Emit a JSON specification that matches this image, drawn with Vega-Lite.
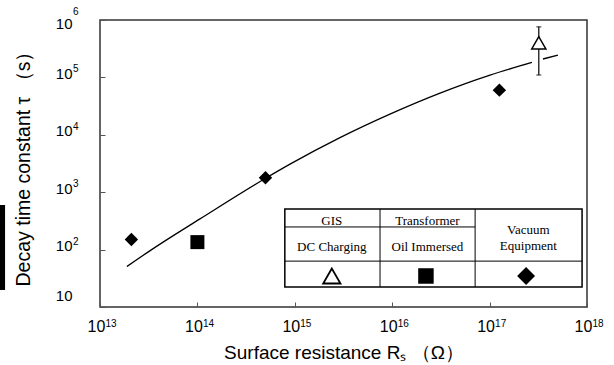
{
  "$schema": "https://vega.github.io/schema/vega-lite/v6.json",
  "width": 487,
  "height": 287,
  "autosize": {"type": "none"},
  "padding": {"left": 100, "top": 20, "right": 27, "bottom": 58},
  "background": "white",
  "config": {
    "view": {"stroke": "#333", "strokeWidth": 1.5},
    "axis": {"grid": false, "domain": false, "tickColor": "#555", "tickSize": -5, "labelColor": "black", "titleColor": "black", "labelFont": "Liberation Sans", "titleFont": "Liberation Sans", "labelFontSize": 15, "titleFontSize": 18, "titleFontWeight": "normal"}
  },
  "datasets": {
    "curve": [
      {"x": 1.89e13, "y": 50.8, "seg": 1},
      {"x": 3.42e13, "y": 101, "seg": 1},
      {"x": 1.063e14, "y": 343, "seg": 1},
      {"x": 5.06e14, "y": 1767, "seg": 1},
      {"x": 8.93e14, "y": 3087, "seg": 1},
      {"x": 2.91e15, "y": 8937, "seg": 1},
      {"x": 9.48e15, "y": 22940, "seg": 1},
      {"x": 3.10e16, "y": 53270, "seg": 1},
      {"x": 1.01e17, "y": 109700, "seg": 1},
      {"x": 2.72e17, "y": 181800, "seg": 1},
      {"x": 3.53e17, "y": 209200, "seg": 2},
      {"x": 5.03e17, "y": 245500, "seg": 2}
    ],
    "points": [
      {"x": 2.1e13, "y": 150, "kind": "diamond"},
      {"x": 5.0e14, "y": 1780, "kind": "diamond"},
      {"x": 1.26e17, "y": 60000, "kind": "diamond"},
      {"x": 1.0e14, "y": 135, "kind": "square"},
      {"x": 3.2e17, "y": 400000, "kind": "triangle"}
    ],
    "legendsym": [
      {"x": 2.4e15, "y": 34.7, "kind": "triangle"},
      {"x": 2.22e16, "y": 34.7, "kind": "square"},
      {"x": 2.37e17, "y": 34.7, "kind": "diamond"}
    ],
    "errorbar": [
      {"x": 3.2e17, "lo": 110000, "hi": 760000}
    ],
    "box": [
      {"x": 7.9e14, "x2": 8.9e17, "y": 22.3, "y2": 509}
    ],
    "lines": [
      {"x": 7.9e14, "x2": 8.9e17, "y": 63, "y2": 63},
      {"x": 7.9e14, "x2": 7.1e16, "y": 248, "y2": 248},
      {"x": 7.5e15, "x2": 7.5e15, "y": 22.3, "y2": 509},
      {"x": 7.1e16, "x2": 7.1e16, "y": 22.3, "y2": 509}
    ],
    "labels": [
      {"x": 2.4e15, "y": 320, "label": "GIS"},
      {"x": 2.3e16, "y": 320, "label": "Transformer"},
      {"x": 2.4e15, "y": 113, "label": "DC Charging"},
      {"x": 2.3e16, "y": 113, "label": "Oil Immersed"},
      {"x": 2.5e17, "y": 222, "label": "Vacuum"},
      {"x": 2.5e17, "y": 116, "label": "Equipment"}
    ],
    "xexp": [
      {"x": 1e13, "e": "13"},
      {"x": 1e14, "e": "14"},
      {"x": 1e15, "e": "15"},
      {"x": 1e16, "e": "16"},
      {"x": 1e17, "e": "17"},
      {"x": 1e18, "e": "18"}
    ],
    "yexp": [
      {"y": 100, "e": "2"},
      {"y": 1000, "e": "3"},
      {"y": 10000, "e": "4"},
      {"y": 100000, "e": "5"},
      {"y": 1000000, "e": "6"}
    ],
    "bar": [
      {"x": 9.4e11, "x2": 1.06e12, "y": 19.8, "y2": 598}
    ]
  },
  "layer": [
    {
      "data": {"name": "curve"},
      "mark": {"type": "line", "color": "black", "strokeWidth": 1.3, "interpolate": "monotone"},
      "encoding": {
        "x": {"field": "x", "type": "quantitative", "scale": {"type": "log", "domain": [1e13, 1e18], "nice": false},
          "axis": {"title": "Surface resistance Rₛ   （Ω）", "titleFontSize": 19, "labelFontSize": 16, "values": [1e13, 1e14, 1e15, 1e16, 1e17, 1e18], "labelPadding": 16, "labelOffset": -4, "labelFlush": false, "titlePadding": 9, "labelExpr": "'10'"}},
        "y": {"field": "y", "type": "quantitative", "scale": {"type": "log", "domain": [10, 1e6], "nice": false},
          "axis": {"title": "Decay time constant   τ  （s）", "titleFontSize": 19.5, "values": [10, 100, 1000, 10000, 100000, 1000000], "labelPadding": 33, "labelOffset": -4, "labelFlush": true, "titlePadding": 22, "labelExpr": "'10'"}},
        "detail": {"field": "seg", "type": "nominal"}
      }
    },
    {
      "data": {"name": "xexp"},
      "mark": {"type": "text", "font": "Liberation Sans", "fontSize": 10, "color": "black", "align": "left", "baseline": "middle", "dx": 5.5, "dy": 16.5},
      "encoding": {
        "x": {"field": "x", "type": "quantitative"},
        "y": {"datum": 10, "type": "quantitative"},
        "text": {"field": "e"}
      }
    },
    {
      "data": {"name": "yexp"},
      "mark": {"type": "text", "font": "Liberation Sans", "fontSize": 10, "color": "black", "align": "left", "baseline": "middle", "dx": -27, "dy": -8},
      "encoding": {
        "x": {"datum": 1e13, "type": "quantitative"},
        "y": {"field": "y", "type": "quantitative"},
        "text": {"field": "e"}
      }
    },
    {
      "data": {"name": "bar"},
      "mark": {"type": "rect", "color": "black"},
      "encoding": {
        "x": {"field": "x", "type": "quantitative"},
        "x2": {"field": "x2"},
        "y": {"field": "y", "type": "quantitative"},
        "y2": {"field": "y2"}
      }
    },
    {
      "data": {"name": "box"},
      "mark": {"type": "rect", "fill": "white", "stroke": "black", "strokeWidth": 1.5},
      "encoding": {
        "x": {"field": "x", "type": "quantitative"},
        "x2": {"field": "x2"},
        "y": {"field": "y", "type": "quantitative"},
        "y2": {"field": "y2"}
      }
    },
    {
      "data": {"name": "lines"},
      "mark": {"type": "rule", "color": "black", "strokeWidth": 1},
      "encoding": {
        "x": {"field": "x", "type": "quantitative"},
        "x2": {"field": "x2"},
        "y": {"field": "y", "type": "quantitative"},
        "y2": {"field": "y2"}
      }
    },
    {
      "data": {"name": "labels"},
      "mark": {"type": "text", "font": "Liberation Serif", "fontSize": 13, "color": "black", "align": "center", "baseline": "middle"},
      "encoding": {
        "x": {"field": "x", "type": "quantitative"},
        "y": {"field": "y", "type": "quantitative"},
        "text": {"field": "label"}
      }
    },
    {
      "data": {"name": "errorbar"},
      "mark": {"type": "rule", "color": "black", "strokeWidth": 1.2},
      "encoding": {
        "x": {"field": "x", "type": "quantitative"},
        "y": {"field": "lo", "type": "quantitative"},
        "y2": {"field": "hi"}
      }
    },
    {
      "data": {"name": "errorbar"},
      "mark": {"type": "tick", "orient": "horizontal", "color": "black", "size": 5, "thickness": 1.2},
      "encoding": {
        "x": {"field": "x", "type": "quantitative"},
        "y": {"field": "lo", "type": "quantitative"}
      }
    },
    {
      "data": {"name": "errorbar"},
      "mark": {"type": "tick", "orient": "horizontal", "color": "black", "size": 5, "thickness": 1.2},
      "encoding": {
        "x": {"field": "x", "type": "quantitative"},
        "y": {"field": "hi", "type": "quantitative"}
      }
    },
    {
      "data": {"name": "points"},
      "transform": [{"filter": "datum.kind == 'diamond'"}],
      "mark": {"type": "point", "shape": "diamond", "filled": true, "color": "black", "size": 180, "opacity": 1},
      "encoding": {
        "x": {"field": "x", "type": "quantitative"},
        "y": {"field": "y", "type": "quantitative"}
      }
    },
    {
      "data": {"name": "points"},
      "transform": [{"filter": "datum.kind == 'square'"}],
      "mark": {"type": "point", "shape": "square", "filled": true, "color": "black", "size": 196, "opacity": 1},
      "encoding": {
        "x": {"field": "x", "type": "quantitative"},
        "y": {"field": "y", "type": "quantitative"}
      }
    },
    {
      "data": {"name": "points"},
      "transform": [{"filter": "datum.kind == 'triangle'"}],
      "mark": {"type": "point", "shape": "triangle-up", "fill": "white", "stroke": "black", "strokeWidth": 1.5, "size": 200, "opacity": 1},
      "encoding": {
        "x": {"field": "x", "type": "quantitative"},
        "y": {"field": "y", "type": "quantitative"}
      }
    },
    {
      "data": {"name": "legendsym"},
      "transform": [{"filter": "datum.kind == 'diamond'"}],
      "mark": {"type": "point", "shape": "diamond", "filled": true, "color": "black", "size": 320, "opacity": 1},
      "encoding": {
        "x": {"field": "x", "type": "quantitative"},
        "y": {"field": "y", "type": "quantitative"}
      }
    },
    {
      "data": {"name": "legendsym"},
      "transform": [{"filter": "datum.kind == 'square'"}],
      "mark": {"type": "point", "shape": "square", "filled": true, "color": "black", "size": 240, "opacity": 1},
      "encoding": {
        "x": {"field": "x", "type": "quantitative"},
        "y": {"field": "y", "type": "quantitative"}
      }
    },
    {
      "data": {"name": "legendsym"},
      "transform": [{"filter": "datum.kind == 'triangle'"}],
      "mark": {"type": "point", "shape": "triangle-up", "fill": "white", "stroke": "black", "strokeWidth": 1.8, "size": 300, "opacity": 1},
      "encoding": {
        "x": {"field": "x", "type": "quantitative"},
        "y": {"field": "y", "type": "quantitative"}
      }
    }
  ]
}
